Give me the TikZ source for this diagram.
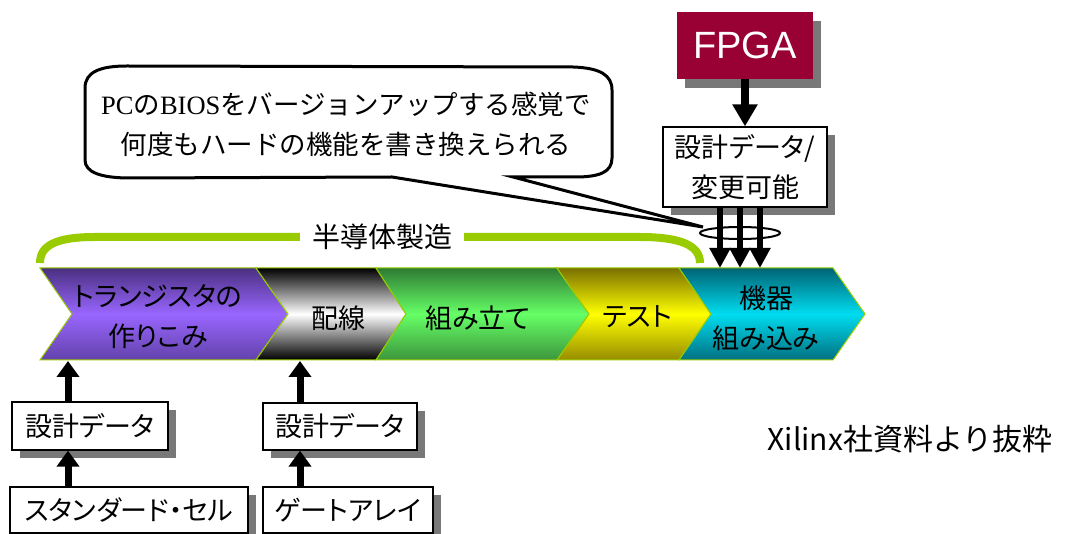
\documentclass[tikz,border=0pt]{standalone}
\usepackage{fontspec}
\setmainfont{Noto Sans CJK JP}
\newfontfamily\jpp{Noto Sans CJK JP}[RawFeature=+palt]
\newfontfamily\lserif{Liberation Serif}
\newfontfamily\lsans{Liberation Sans}
\usetikzlibrary{arrows.meta,calc,shadows}
\definecolor{fpgac}{RGB}{153,0,51}
\definecolor{bracketc}{RGB}{153,204,0}
\definecolor{edgec}{RGB}{153,204,0}
\definecolor{pdark}{RGB}{74,48,128}
\definecolor{pbot}{RGB}{98,66,170}
\definecolor{plight}{RGB}{153,102,255}
\definecolor{gdark}{RGB}{46,122,51}
\definecolor{gbot}{RGB}{60,150,60}
\definecolor{glight}{RGB}{102,255,102}
\definecolor{ydark}{RGB}{122,112,0}
\definecolor{ybot}{RGB}{150,140,0}
\definecolor{ylight}{RGB}{255,255,0}
\definecolor{cdark}{RGB}{0,100,116}
\definecolor{cbot}{RGB}{0,112,128}
\definecolor{clight}{RGB}{0,220,240}
\definecolor{shadowc}{RGB}{120,120,120}
\tikzset{
  sbox/.style={draw=black, line width=1.3pt, fill=white, inner sep=0pt, align=center,
    font=\jpp\fontsize{27}{40}\selectfont,
    drop shadow={shadow xshift=8pt, shadow yshift=-8pt, fill=shadowc, opacity=1}},
  chev/.style={draw=edgec, line width=1pt},
  chevtext/.style={align=center, font=\jpp\fontsize{27}{40}\selectfont},
  uparrow/.style={line width=7pt, -{Triangle[width=22pt,length=16pt]}},
  downarrow/.style={line width=6pt, -{Triangle[width=20pt,length=20pt]}},
}
\begin{document}
\begin{tikzpicture}[x=1pt,y=-1pt]
\useasboundingbox (0,0) rectangle (1071,534);
\fill[white] (0,0) rectangle (1071,534);

% chevrons
\path[chev, top color=pdark, bottom color=pbot, middle color=plight]
  (40,268) -- (256,268) -- (288,314) -- (256,360) -- (40,360) -- (72,314) -- cycle;
\path[chev, top color=black, bottom color=black, middle color=white]
  (256,268) -- (376,268) -- (406,314) -- (376,360) -- (256,360) -- (288,314) -- cycle;
\path[chev, top color=gdark, bottom color=gbot, middle color=glight]
  (376,268) -- (557,268) -- (589,314) -- (557,360) -- (376,360) -- (406,314) -- cycle;
\path[chev, top color=ydark, bottom color=ybot, middle color=ylight]
  (557,268) -- (679,268) -- (711,314) -- (679,360) -- (557,360) -- (589,314) -- cycle;
\path[chev, top color=cdark, bottom color=cbot, middle color=clight]
  (679,268) -- (833,268) -- (865,314) -- (833,360) -- (679,360) -- (711,314) -- cycle;

\node[chevtext] (t1) at (158,317) {トランジスタの\\作りこみ};
\node[chevtext] (t2) at (338,318) {配線};
\node[chevtext] (t3) at (478,318) {組み立て};
\node[chevtext] (t4) at (637,317) {テスト};
\node[chevtext] (t5) at (766,318) {機器\\組み込み};

% bracket
\node[font=\jpp\fontsize{28}{30}\selectfont, inner xsep=12pt, inner ysep=0pt] (semi) at (382,237) {半導体製造};
\draw[bracketc, line width=8pt] (40,263) .. controls (40,246) and (55,237) .. (95,237) -- (semi.west);
\draw[bracketc, line width=8pt] (semi.east) -- (640,237) .. controls (682,237) and (700,246) .. (700,263);

% callout bubble
\draw[line width=3pt, fill=white, line join=miter]
  (127,66) -- (573,67) .. controls (600,68) and (612,75) .. (612,90) -- (612,158)
  .. controls (612,172) and (600,177) .. (575,177) -- (513,177) -- (703,227) -- (392,177)
  -- (130,178) .. controls (100,178) and (85,172) .. (85,160) -- (85,88)
  .. controls (85,72) and (100,66) .. (127,66) -- cycle;
\node[align=center, font=\fontsize{26.5}{40}\selectfont] (bub) at (346,124)
  {{\lserif PC}の{\lserif BIOS}をバージョンアップする感覚で\\何度もハードの機能を書き換えられる};

% FPGA
\node[fill=fpgac, text=white, minimum width=136pt, minimum height=67pt, inner sep=0pt,
  font=\lsans\fontsize{38}{40}\selectfont,
  drop shadow={shadow xshift=8pt, shadow yshift=-9pt, fill=shadowc, opacity=1}] (fpga) at (745,45.5) {FPGA};
\node[sbox, minimum width=164pt, minimum height=80pt] (dd) at (745,167) {設計データ/\\変更可能};
\draw[line width=8pt, -{Triangle[width=24pt,length=22pt]}] (fpga.south) -- (dd.north);

\coordinate (ax1) at (720,268);
\coordinate (ax2) at (740,268);
\coordinate (ax3) at (760,268);
\draw[downarrow] (dd.south -| ax1) -- (ax1);
\draw[downarrow] (dd.south -| ax2) -- (ax2);
\draw[downarrow] (dd.south -| ax3) -- (ax3);
\draw[line width=2pt] (740,233) ellipse [x radius=40pt, y radius=6pt];

% bottom boxes
\node[sbox, minimum width=156pt, minimum height=48pt] (sd1) at (90,426) {設計データ};
\node[sbox, minimum width=238pt, minimum height=46pt] (ssc) at (129,510) {スタンダード・セル};
\node[sbox, minimum width=154pt, minimum height=47pt] (sd2) at (340,426.5) {設計データ};
\node[sbox, minimum width=170pt, minimum height=46pt] (ga) at (348,510) {ゲートアレイ};

\coordinate (b1) at (68,361);
\coordinate (b2) at (300,361);
\draw[uparrow] (ssc.north -| b1) -- (sd1.south -| b1);
\draw[uparrow] (sd1.north -| b1) -- (b1);
\draw[uparrow] (ga.north -| b2) -- (sd2.south -| b2);
\draw[uparrow] (sd2.north -| b2) -- (b2);

% source note
\node[font=\fontsize{30}{32}\selectfont] (src) at (910,439) {Xilinx社資料より抜粋};
\end{tikzpicture}
\end{document}
